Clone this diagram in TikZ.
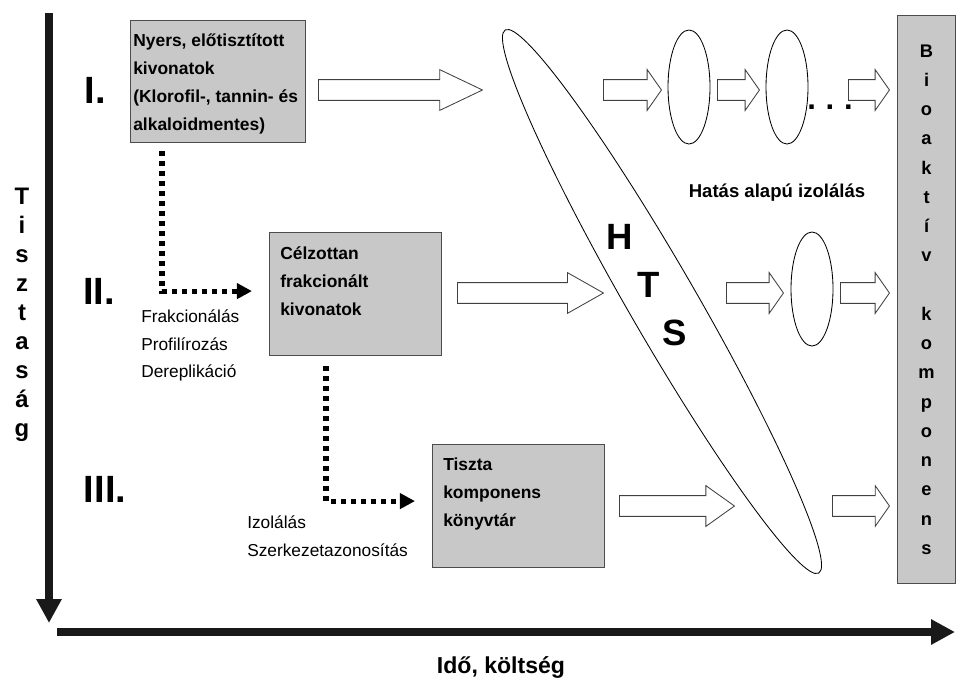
\documentclass[tikz,border=0pt]{standalone}
\usepackage{fontspec}
\setmainfont{Liberation Sans}
\usetikzlibrary{calc,arrows.meta,shapes.geometric,shapes.arrows}
\definecolor{boxgray}{RGB}{200,200,200}
\tikzset{
	box/.style={draw=black!70, fill=boxgray, line width=0.8pt, inner sep=0pt, anchor=north west},
	boxtext/.style={font=\bfseries\fontsize{12.4}{19.9}\selectfont, align=left, inner sep=0pt, anchor=north west},
	steptext/.style={font=\fontsize{12.3}{19.9}\selectfont, align=left, inner sep=0pt, anchor=north west},
	roman/.style={font=\bfseries\fontsize{27}{30}\selectfont, inner sep=0pt},
	hollow/.style={single arrow, draw=black!75, fill=white, line width=0.6pt, inner xsep=0pt, inner ysep=7.1pt,
		minimum width=0pt, single arrow head extend=7.1pt, single arrow tip angle=110, anchor=tail},
	oval/.style={ellipse, draw, line width=0.6pt, inner sep=0pt, minimum width=1.05cm, minimum height=2.85cm},
	dotarrow/.style={line width=3.6pt, dash pattern=on 3.6pt off 3.5pt, -{Triangle[length=10.7pt,width=10.7pt]}},
	axis/.style={line width=5.7pt, -{Triangle[length=17pt,width=17pt]}, black!90}
}

\begin{document}
\begin{tikzpicture}[x=0.025cm, y=-0.025cm]
		\useasboundingbox (0,0) rectangle (979,693);
		%%%%% AXES %%%%%
		\coordinate (ytop) at (49,13);
		\coordinate (yend) at (49,623);
		\coordinate (xstart) at (57,632);
		\coordinate (xend) at (955,632);
		\draw[axis] (ytop) -- (yend);
		\draw[axis] (xstart) -- (xend);
		\node[font=\bfseries\fontsize{17}{20.6}\selectfont, align=center, inner sep=0pt] (purity) at (22,315)
			{T\\i\\s\\z\\t\\a\\s\\á\\g};
		\node[font=\bfseries\fontsize{16.4}{20}\selectfont, inner sep=0pt] (timecost) at (501,667) {Idő, költség};
		
		%%%%% LEVELS %%%%%
		\node[roman] (levone) at (95,90) {I.};
		\node[roman] (levtwo) at (99,291) {II.};
		\node[roman] (levthree) at (105,489) {III.};
		
		\node[box, minimum width=4.375cm, minimum height=3.05cm] (boxone) at (130,20) {};
		\node[boxtext] (boxonetext) at ($(boxone.north west)+(3,13)$)
			{Nyers, előtisztított\\kivonatok\\(Klorofil-, tannin- és\\alkaloidmentes)};
		\node[box, minimum width=4.3cm, minimum height=3.075cm] (boxtwo) at (269,232) {};
		\node[boxtext] (boxtwotext) at ($(boxtwo.north west)+(11,14)$)
			{Célzottan\\frakcionált\\kivonatok};
		\node[box, minimum width=4.3cm, minimum height=3.075cm] (boxthree) at (432,444) {};
		\node[boxtext] (boxthreetext) at ($(boxthree.north west)+(11,14)$)
			{Tiszta\\komponens\\könyvtár};
		
		\draw[dotarrow] ($(boxone.south west)+(32,8)$) |- ($(boxtwo.west)+(-17,-3)$);
		\draw[dotarrow] ($(boxtwo.south west)+(57,10)$) |- ($(boxthree.west)+(-17,-5)$);
		\node[steptext] (steptwo) at (141,309) {Frakcionálás\\Profilírozás\\Dereplikáció};
		\node[steptext] (stepthree) at (247,515) {Izolálás\\Szerkezetazonosítás};
		
		%%%%% HTS %%%%%
		\node[ellipse, draw, line width=0.6pt, rotate=-60, minimum width=15.675cm, minimum height=1.7cm] (hts) at (662,301.5) {};
		\node[roman, font=\bfseries\fontsize{26}{30}\selectfont] (htsh) at (620,237) {H};
		\node[roman, font=\bfseries\fontsize{26}{30}\selectfont] (htst) at (649,285) {T};
		\node[roman, font=\bfseries\fontsize{26}{30}\selectfont] (htss) at (675,333) {S};
		
		\node[hollow, minimum height=4.1cm, single arrow tip angle=51] (arone) at (318,90) {};
		\node[hollow, minimum height=3.65cm, single arrow tip angle=59] (artwo) at (457,293) {};
		\node[hollow, minimum height=2.875cm, single arrow tip angle=71] (arthree) at (619,506) {};
		
		%%%%% ACTIVITY GUIDED %%%%%
		\node[hollow, minimum height=1.45cm] (aronea) at (603,90) {};
		\node[oval] (ovonea) at (689,87) {};
		\node[hollow, minimum height=1.05cm] (aroneb) at (717,90) {};
		\node[oval] (ovoneb) at (787,87) {};
		\node[font=\bfseries\fontsize{22}{22}\selectfont, inner sep=0pt] (dots) at (830,107) {.\hspace{7pt}.\hspace{7pt}.};
		\node[hollow, minimum height=1.025cm] (aronec) at (848,90) {};
		
		\node[font=\bfseries\fontsize{13.2}{14}\selectfont, inner sep=0pt] (guided) at (777,193) {Hatás alapú izolálás};
		
		\node[hollow, minimum height=1.425cm] (artwoa) at (726,293) {};
		\node[oval] (ovtwo) at (812,289) {};
		\node[hollow, minimum height=1.225cm] (artwob) at (840,293) {};
		
		\node[hollow, minimum height=1.425cm] (arthreea) at (832,506) {};
		
		\node[box, minimum width=1.45cm, minimum height=14.2cm] (bioactive) at (897,15) {};
		\node[font=\bfseries\fontsize{13}{20.8}\selectfont, align=center, inner sep=0pt] (bioactivetext) at (bioactive.center)
			{B\\i\\o\\a\\k\\t\\í\\v\\[20.8pt]k\\o\\m\\p\\o\\n\\e\\n\\s};
	\end{tikzpicture}
\end{document}
